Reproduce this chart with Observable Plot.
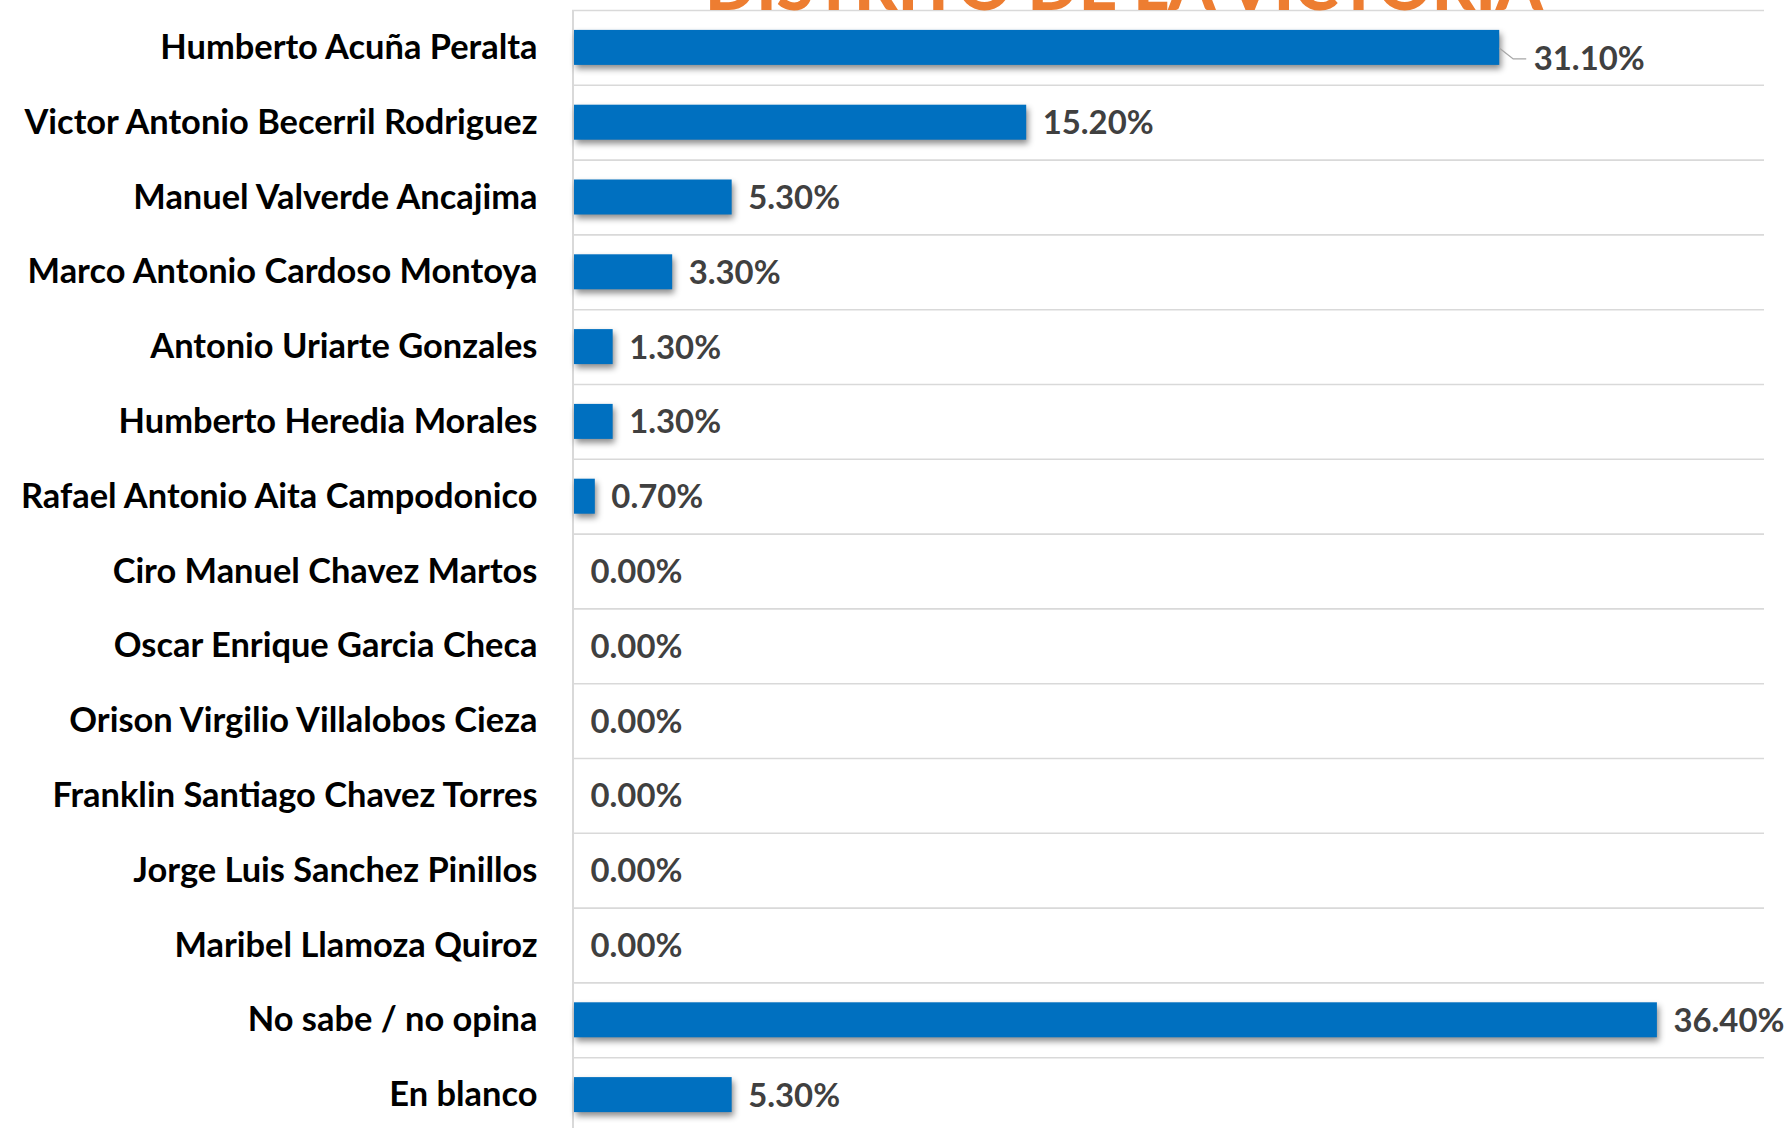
<!DOCTYPE html>
<html>
<head>
<meta charset="utf-8">
<script src="https://cdn.jsdelivr.net/npm/d3@7"></script>
<script src="https://cdn.jsdelivr.net/npm/@observablehq/plot@0.6"></script>
<style>
  html, body { margin: 0; padding: 0; background: #ffffff; }
  #wrap { position: relative; width: 1791px; height: 1128px; overflow: hidden; background: #ffffff; }
</style>
</head>
<body>
<div id="wrap"></div>
<script>
// ---- data ----
const title = "DISTRITO DE LA VICTORIA";
const candidates = [
  "Humberto Acuña Peralta",
  "Victor Antonio Becerril Rodriguez",
  "Manuel Valverde Ancajima",
  "Marco Antonio Cardoso Montoya",
  "Antonio Uriarte Gonzales",
  "Humberto Heredia Morales",
  "Rafael Antonio Aita Campodonico",
  "Ciro Manuel Chavez Martos",
  "Oscar Enrique Garcia Checa",
  "Orison Virgilio Villalobos Cieza",
  "Franklin Santiago Chavez Torres",
  "Jorge Luis Sanchez Pinillos",
  "Maribel Llamoza Quiroz",
  "No sabe / no opina",
  "En blanco"
];
const percents = [31.1, 15.2, 5.3, 3.3, 1.3, 1.3, 0.7, 0, 0, 0, 0, 0, 0, 36.4, 5.3];

const rows = candidates.map((name, i) => ({name, value: percents[i], idx: i}));
const fmt = v => v.toFixed(2) + "%";

// ---- text sizing (fit installed font to reference text widths) ----
const FONT = "Lato";
const ctx = document.createElement("canvas").getContext("2d");
function fit(text, weight, target) {
  ctx.font = `${weight} 100px ${FONT}`;
  return 100 * target / ctx.measureText(text).width;
}
const catSize = fit("Victor Antonio Becerril Rodriguez", "bold", 515);
const valSize = fit("31.10%", "bold", 111);
const titleSize = fit(title, "900", 843);

// ---- layout ----
const W = 1791, H = 1135, mTop = 10, mBottom = 3, mLeft = 574, mRight = 27;
const step = (H - mTop - mBottom) / candidates.length;
const barH = 35;
const inset = (step - barH) / 2;

const plot = Plot.plot({
  width: W,
  height: H,
  marginTop: mTop,
  marginBottom: mBottom,
  marginLeft: mLeft,
  marginRight: mRight,
  style: {fontFamily: FONT, background: "#ffffff", color: "#000000"},
  x: {domain: [0, 40], axis: null},
  y: {domain: candidates, padding: 0, round: false, axis: null},
  marks: [
    // horizontal separators between rows
    Plot.ruleY(candidates, {y: d => d, dy: -step / 2, insetLeft: -2, stroke: "#d9d9d9", strokeWidth: 1.6}),
    Plot.ruleY([candidates[candidates.length - 1]], {y: d => d, dy: step / 2, insetLeft: -2, stroke: "#d9d9d9", strokeWidth: 1.6}),
    // vertical axis line
    Plot.ruleX([0], {dx: -1.5, stroke: "#d9d9d9", strokeWidth: 2}),
    // bars
    Plot.barX(rows.filter(d => d.value > 0), {
      x: "value", y: "name", fill: "#0070c0",
      insetTop: inset, insetBottom: inset
    }),
    // value labels
    Plot.text(rows.filter(d => d.idx !== 0), {
      x: "value", y: "name", text: d => fmt(d.value),
      textAnchor: "start", dx: 16, dy: 1,
      fontSize: valSize, fontWeight: "bold", fill: "#404040"
    }),
    // offset label with leader for the first row
    Plot.text(rows.filter(d => d.idx === 0), {
      x: "value", y: "name", text: d => fmt(d.value),
      textAnchor: "start", dx: 34, dy: 12,
      fontSize: valSize, fontWeight: "bold", fill: "#404040"
    }),
    // category axis
    Plot.axisY({
      tickSize: 0, tickPadding: 37, label: null,
      fontSize: catSize, fontWeight: "bold", fill: "#000000"
    }),
    // title (cut off at the top of the picture)
    Plot.text([title], {
      frameAnchor: "top", lineAnchor: "bottom", dx: 1123.5 - (mLeft + (W - mRight)) / 2, dy: -0.5,
      fontSize: titleSize, fontWeight: 900, fill: "#ed7d31"
    })
  ]
});

document.getElementById("wrap").appendChild(plot);

// drop shadow on bars
d3.select(plot).selectAll('g[aria-label="bar"] rect')
  .style("filter", "drop-shadow(2px 4px 3px rgba(0,0,0,0.45))");

// leader line from the first bar to its displaced label
const xs = plot.scale("x"), ys = plot.scale("y");
const x0 = xs.apply(percents[0]);
const yc = ys.apply(candidates[0]) + ys.bandwidth / 2;
d3.select(plot).append("path")
  .attr("d", `M${x0},${yc + 0.5}L${x0 + 14},${yc + 11.5}L${x0 + 27},${yc + 11.5}`)
  .attr("fill", "none")
  .attr("stroke", "#a6a6a6")
  .attr("stroke-width", 1.3);
</script>
</body>
</html>
